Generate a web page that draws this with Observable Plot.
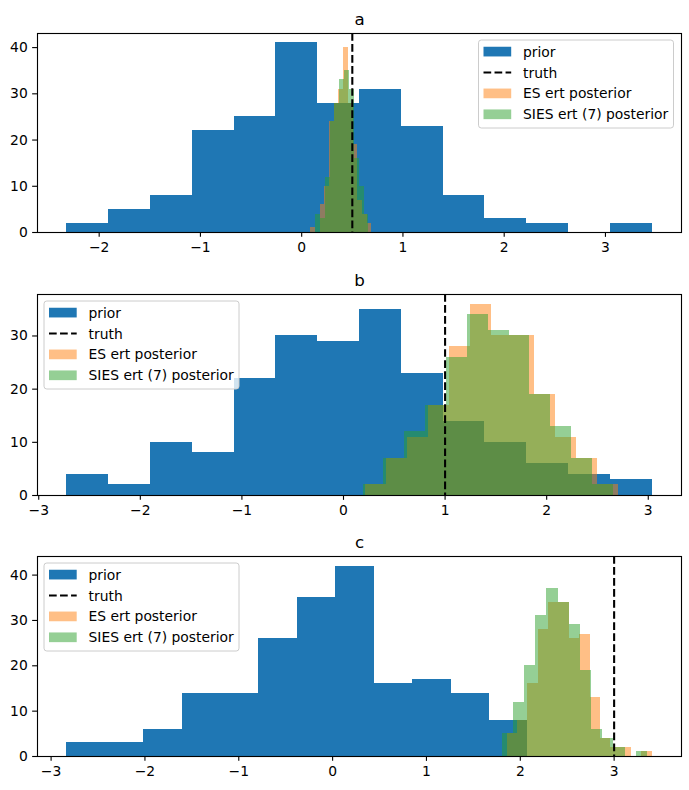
<!DOCTYPE html>
<html>
<head>
<meta charset="utf-8">
<script src="https://cdn.jsdelivr.net/npm/d3@7"></script>
<script src="https://cdn.jsdelivr.net/npm/@observablehq/plot@0.6"></script>
<style>
  body { margin: 0; background: #fff; }
  #chart { width: 689px; height: 790px; }
  #chart svg { display: block; }
</style>
</head>
<body>
<div id="chart"></div>
<script>
// ---- Panel a: bin range [lo, hi] and counts per equal-width bin ----
const aPriorRange = [-2.32, 3.462];
const aPriorCounts = [2, 5, 8, 22, 25, 41, 28, 31, 23, 8, 3, 2, 0, 2];
const aEsRange = [0.091, 0.692];
const aEsCounts = [1, 0, 6, 10, 24, 28, 31, 40, 28, 19, 7, 4, 2];
const aSiesRange = [0.1375, 0.664];
const aSiesCounts = [4, 3, 12, 24, 28, 33, 35, 31, 16, 10, 4];
const aTruth = 0.5;

// ---- Panel b ----
const bPriorRange = [-2.724, 3.039];
const bPriorCounts = [4, 2, 10, 8, 22, 30, 29, 35, 23, 14, 10, 6, 4, 3];
const bEsRange = [0.220, 2.703];
const bEsCounts = [2, 7, 11, 17, 28, 36, 30, 30, 19, 11, 7, 2];
const bSiesRange = [0.193, 2.656];
const bSiesCounts = [2, 7, 12, 17, 26, 34, 31, 30, 19, 13, 7, 2];
const bTruth = 1.0;

// ---- Panel c ----
const cPriorRange = [-2.833, 2.081];
const cPriorCounts = [3, 3, 6, 14, 14, 26, 35, 42, 16, 17, 14, 8];
const cEsRange = [1.860, 3.406];
const cEsCounts = [5, 8, 16, 28, 34, 34, 26, 27, 13, 4, 2, 2, 0, 1];
const cSiesRange = [1.807, 3.356];
const cSiesCounts = [5, 12, 20, 31, 37, 34, 29, 19, 6, 4, 2, 0, 1];
const cTruth = 3.0;

const xTicksA = [-2, -1, 0, 1, 2, 3];
const xTicksBC = [-3, -2, -1, 0, 1, 2, 3];
const yTicksA = [0, 10, 20, 30, 40];
const yTicksB = [0, 10, 20, 30];
const yTicksC = [0, 10, 20, 30, 40];

const legendLabels = ["prior", "truth", "ES ert posterior", "SIES ert (7) posterior"];

const PRIOR = "#1f77b4", ES = "#ff7f0e", SIES = "#2ca02c";
const FONT = "DejaVu Sans, sans-serif";
const FS = 13.89;

// equal-width bins between lo and hi, as matplotlib's hist lays them out
function toBins([lo, hi], counts) {
  const w = (hi - lo) / counts.length;
  return counts.map((c, i) => ({x1: lo + i * w, x2: lo + (i + 1) * w, count: c}));
}

// x extent with matplotlib's 5% auto-margin
function paddedDomain(ranges) {
  const lo = d3.min(ranges, r => r[0]), hi = d3.max(ranges, r => r[1]);
  const m = (hi - lo) * 0.05;
  return [lo - m, hi + m];
}

const fmt = d => d < 0 ? "\u2212" + (-d) : String(d);

function panel(o) {
  const allCounts = [...o.prior[1], ...o.es[1], ...o.sies[1]];
  const yMax = d3.max(allCounts) * 1.05;
  const bars = (spec, fill, opacity) =>
    Plot.rect(toBins(spec[0], spec[1]), {
      x1: "x1", x2: "x2", y1: () => 0, y2: "count",
      fill, fillOpacity: opacity, shapeRendering: "crispEdges"
    });
  const svg = Plot.plot({
    width: 689,
    height: o.height,
    marginLeft: 37,
    marginRight: 8,
    marginTop: o.marginTop,
    marginBottom: o.marginBottom,
    x: {domain: paddedDomain([o.prior[0], o.es[0], o.sies[0]])},
    y: {domain: [0, yMax]},
    style: {fontFamily: FONT, fontSize: FS + "px", color: "black", background: "white", overflow: "visible"},
    marks: [
      bars(o.prior, PRIOR, 1),
      bars(o.es, ES, 0.5),
      bars(o.sies, SIES, 0.5),
      Plot.ruleX([o.truth], {stroke: "black", strokeWidth: 2.08, strokeDasharray: "7.7,3.33"}),
      Plot.frame({stroke: "black", strokeWidth: 1.11}),
      Plot.axisX({ticks: o.xTicks, tickFormat: fmt, tickSize: 4.86, tickPadding: 4.86, strokeWidth: 1.11, label: null, fontSize: FS}),
      Plot.axisY({ticks: o.yTicks, tickFormat: fmt, tickSize: 4.86, tickPadding: 4.86, strokeWidth: 1.11, label: null, fontSize: FS}),
      Plot.text([o.title], {frameAnchor: "top", dy: -8.33, lineAnchor: "bottom", fontSize: 16.67, fill: "black"})
    ]
  });

  // legend box inside the axes
  const s = d3.select(svg);
  const frameLeft = 37, frameRight = 689 - 8, frameTop = o.marginTop;
  const boxW = 195, boxH = 88;
  const bx = o.legend === "right" ? frameRight - 7.5 - boxW : frameLeft + 7;
  const by = frameTop + 7;
  const g = s.append("g").attr("transform", `translate(${bx},${by})`);
  g.append("rect").attr("width", boxW).attr("height", boxH).attr("rx", 2.8)
    .attr("fill", "white").attr("fill-opacity", 0.8).attr("stroke", "#cccccc").attr("stroke-width", 1);
  const rowY = i => 11.6 + i * 20.9;
  const hx = 5, hw = 27.7, hh = 9.7;
  const handles = [
    gg => gg.append("rect").attr("x", hx).attr("y", -hh / 2).attr("width", hw).attr("height", hh).attr("fill", PRIOR),
    gg => gg.append("line").attr("x1", hx).attr("x2", hx + hw).attr("y1", 0).attr("y2", 0)
      .attr("stroke", "black").attr("stroke-width", 2.08).attr("stroke-dasharray", "7.7,3.33"),
    gg => gg.append("rect").attr("x", hx).attr("y", -hh / 2).attr("width", hw).attr("height", hh).attr("fill", ES).attr("fill-opacity", 0.5),
    gg => gg.append("rect").attr("x", hx).attr("y", -hh / 2).attr("width", hw).attr("height", hh).attr("fill", SIES).attr("fill-opacity", 0.5)
  ];
  legendLabels.forEach((label, i) => {
    const row = g.append("g").attr("transform", `translate(0,${rowY(i)})`);
    handles[i](row);
    row.append("text").attr("x", 44.5).attr("y", 5).attr("text-anchor", "start")
      .attr("font-family", FONT).attr("font-size", FS).attr("fill", "black").text(label);
  });
  return svg;
}

const chart = document.getElementById("chart");
chart.append(panel({
  title: "a", height: 262, marginTop: 33, marginBottom: 30,
  prior: [aPriorRange, aPriorCounts], es: [aEsRange, aEsCounts], sies: [aSiesRange, aSiesCounts],
  truth: aTruth, xTicks: xTicksA, yTicks: yTicksA, legend: "right"
}));
chart.append(panel({
  title: "b", height: 262, marginTop: 32, marginBottom: 29,
  prior: [bPriorRange, bPriorCounts], es: [bEsRange, bEsCounts], sies: [bSiesRange, bSiesCounts],
  truth: bTruth, xTicks: xTicksBC, yTicks: yTicksB, legend: "left"
}));
chart.append(panel({
  title: "c", height: 266, marginTop: 32, marginBottom: 34,
  prior: [cPriorRange, cPriorCounts], es: [cEsRange, cEsCounts], sies: [cSiesRange, cSiesCounts],
  truth: cTruth, xTicks: xTicksBC, yTicks: yTicksC, legend: "left"
}));
</script>
</body>
</html>
